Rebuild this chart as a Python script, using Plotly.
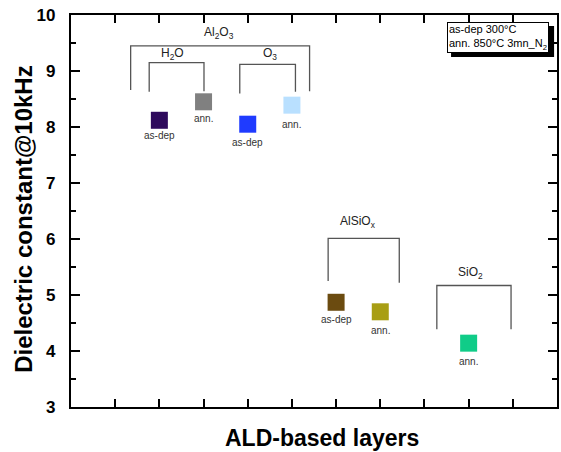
import plotly.graph_objects as go

# ---- data ----
positions = [2, 3, 4, 5, 6, 7, 9]
values = [8.12, 8.45, 8.05, 8.39, 4.87, 4.70, 4.14]
point_labels = ["as-dep", "ann.", "as-dep", "ann.", "as-dep", "ann.", "ann."]
colors = ["#2E0A5C", "#808080", "#1F3BFF", "#B9E0FF", "#6B4B10", "#A89E14", "#10CC88"]
label_offsets = [-0.27, -0.29, -0.32, -0.34, -0.31, -0.34, -0.32]

group_names = ["Al<sub>2</sub>O<sub>3</sub>", "H<sub>2</sub>O", "O<sub>3</sub>",
               "AlSiO<sub>x</sub>", "SiO<sub>2</sub>"]

x_title = "ALD-based layers"
y_title = "Dielectric constant@10kHz"

fig = go.Figure()

for xv, yv, c in zip(positions, values, colors):
    fig.add_trace(go.Scatter(
        x=[xv], y=[yv], mode="markers",
        marker=dict(symbol="square", size=17, color=c, line=dict(width=0)),
        showlegend=False, hoverinfo="skip"))

for xv, yv, lab, off in zip(positions, values, point_labels, label_offsets):
    fig.add_annotation(x=xv, y=yv + off, text=lab, showarrow=False,
                       font=dict(family="Arial, Liberation Sans", size=10, color="#333333"),
                       xref="x", yref="y")

# brackets: (x_left, x_right, y_top, y_left_bottom, y_right_bottom)
brackets = [
    (1.35, 5.40, 9.45, 8.66, 8.64),
    (1.77, 3.01, 9.15, 8.63, 8.64),
    (3.82, 5.08, 9.12, 8.60, 8.63),
    (5.82, 7.43, 6.01, 5.25, 5.22),
    (8.28, 9.96, 5.17, 4.39, 4.39),
]
label_pos = [(3.35, 9.67), (2.30, 9.31), (4.50, 9.31), (6.50, 6.30), (9.05, 5.39)]

for (xl, xr, yt, ylb, yrb) in brackets:
    path = f"M {xl},{ylb} L {xl},{yt} L {xr},{yt} L {xr},{yrb}"
    fig.add_shape(type="path", path=path, xref="x", yref="y",
                  line=dict(color="#555555", width=1.3))

for name, (lx, ly) in zip(group_names, label_pos):
    fig.add_annotation(x=lx, y=ly, text=name, showarrow=False,
                       font=dict(family="Arial, Liberation Sans", size=12, color="#222222"),
                       xref="x", yref="y")

# info box with shadow
fig.add_shape(type="rect", xref="paper", yref="paper",
              x0=0.782, x1=0.994, y0=0.893, y1=0.972,
              fillcolor="black", line=dict(width=0))
fig.add_annotation(xref="paper", yref="paper", x=0.774, y=0.982,
                   xanchor="left", yanchor="top", showarrow=False, align="left",
                   text="as-dep 300°C<br>ann. 850°C 3mn_N<sub>2</sub>",
                   font=dict(family="Arial, Liberation Sans", size=11, color="black"),
                   bgcolor="white", bordercolor="black", borderwidth=1,
                   borderpad=1, width=98, height=27, valign="middle")

# axis titles
fig.add_annotation(xref="paper", yref="paper", x=0.516, y=-0.078,
                   xanchor="center", yanchor="middle", showarrow=False,
                   text=f"<b>{x_title}</b>",
                   font=dict(family="Arial, Liberation Sans", size=23, color="black"))
fig.add_annotation(xref="paper", yref="paper", x=-0.0967, y=0.48,
                   xanchor="center", yanchor="middle", showarrow=False, textangle=-90,
                   text=f"<b>{y_title}</b>",
                   font=dict(family="Arial, Liberation Sans", size=24, color="black"))

axis_common = dict(showline=True, linecolor="black", linewidth=2.2, mirror="allticks",
                   ticks="inside", tickcolor="black", tickwidth=2, showgrid=False,
                   zeroline=False, automargin=False)

fig.update_xaxes(range=[0, 11], dtick=1, tick0=0, ticklen=8, showticklabels=False,
                 **axis_common)
fig.update_yaxes(range=[3, 10], dtick=1, tick0=3, ticklen=9,
                 minor=dict(dtick=0.5, ticks="inside", ticklen=5, tickcolor="black", tickwidth=1.5),
                 tickfont=dict(family="Arial, Liberation Sans", size=17, color="black", weight="bold"),
                 ticklabelstandoff=10,
                 **axis_common)

fig.update_layout(width=561, height=452,
                  margin=dict(l=71, r=4, t=15, b=45),
                  plot_bgcolor="white", paper_bgcolor="white")

fig.write_html("out.html", config={"displayModeBar": False},
               post_script="document.body.style.margin='0px';")
